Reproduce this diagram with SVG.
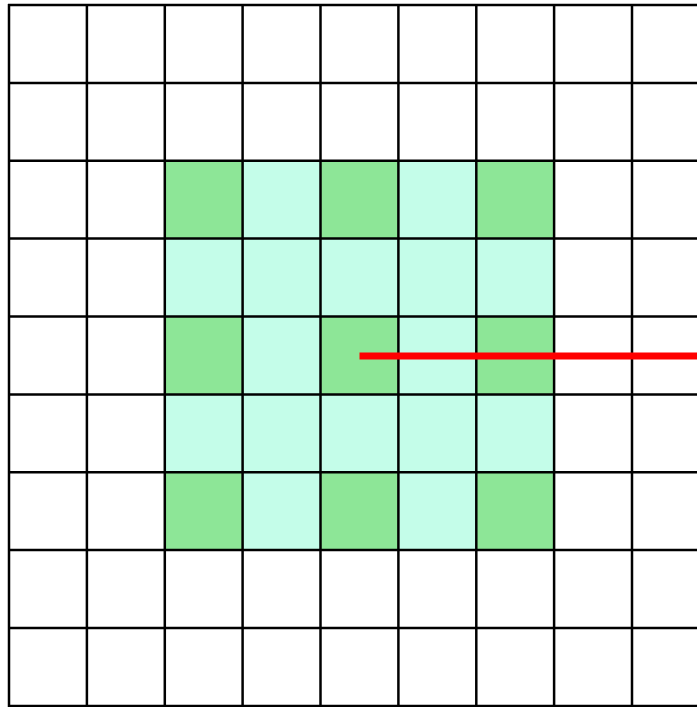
<svg xmlns="http://www.w3.org/2000/svg" width="697" height="707" viewBox="0 0 697 707">
<defs>
<style>
.g{fill:#8de697}
.t{fill:#c4fde9}
.r{stroke:#ff0000;stroke-width:7;fill:none}
</style>
</defs>
<rect width="697" height="707" fill="#fff"/>
<g id="fills">
<rect class="t" x="164.8" y="160.8" width="389.3" height="389.3"/>
<rect class="g" x="164.8" y="160.8" width="77.875" height="77.875"/>
<rect class="g" x="320.5" y="160.8" width="77.875" height="77.875"/>
<rect class="g" x="476.3" y="160.8" width="77.875" height="77.875"/>
<rect class="g" x="164.8" y="316.5" width="77.875" height="77.875"/>
<rect class="g" x="320.5" y="316.5" width="77.875" height="77.875"/>
<rect class="g" x="476.3" y="316.5" width="77.875" height="77.875"/>
<rect class="g" x="164.8" y="472.3" width="77.875" height="77.875"/>
<rect class="g" x="320.5" y="472.3" width="77.875" height="77.875"/>
<rect class="g" x="476.3" y="472.3" width="77.875" height="77.875"/>
</g>
<g id="grid-lines" stroke="#000" stroke-width="2.5">
<line x1="9" y1="4" x2="9" y2="707"/>
<line x1="86.9" y1="4" x2="86.9" y2="707"/>
<line x1="164.8" y1="4" x2="164.8" y2="707"/>
<line x1="242.6" y1="4" x2="242.6" y2="707"/>
<line x1="320.5" y1="4" x2="320.5" y2="707"/>
<line x1="398.4" y1="4" x2="398.4" y2="707"/>
<line x1="476.3" y1="4" x2="476.3" y2="707"/>
<line x1="554.1" y1="4" x2="554.1" y2="707"/>
<line x1="632" y1="4" x2="632" y2="707"/>
<line x1="8" y1="5" x2="697" y2="5"/>
<line x1="8" y1="82.9" x2="697" y2="82.9"/>
<line x1="8" y1="160.8" x2="697" y2="160.8"/>
<line x1="8" y1="238.6" x2="697" y2="238.6"/>
<line x1="8" y1="316.5" x2="697" y2="316.5"/>
<line x1="8" y1="394.4" x2="697" y2="394.4"/>
<line x1="8" y1="472.3" x2="697" y2="472.3"/>
<line x1="8" y1="550.1" x2="697" y2="550.1"/>
<line x1="8" y1="628" x2="697" y2="628"/>
<line x1="8" y1="705.9" x2="697" y2="705.9"/>
</g>
<g id="connectors">
<line class="r" x1="359.5" y1="356" x2="697" y2="356"/>
</g>
</svg>
